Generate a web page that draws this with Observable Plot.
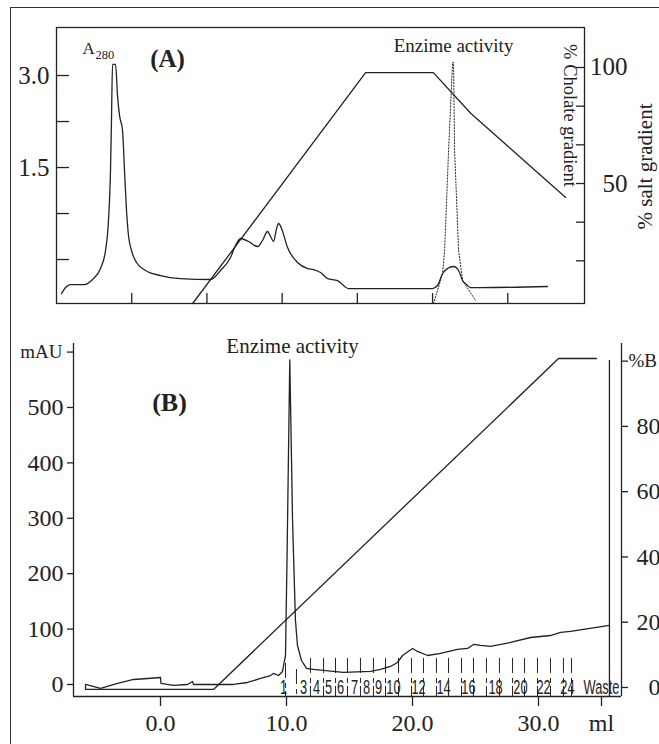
<!DOCTYPE html>
<html><head><meta charset="utf-8">
<script src="https://cdn.jsdelivr.net/npm/d3@7"></script>
<script src="https://cdn.jsdelivr.net/npm/@observablehq/plot@0.6"></script>
<style>
html,body{margin:0;padding:0;background:#fff;overflow:hidden;}
#page{position:relative;width:659px;height:744px;overflow:hidden;background:#fff;}
#border{position:absolute;left:10px;top:7px;width:800px;height:900px;border:1.3px solid #333;box-sizing:border-box;}
#page svg{position:absolute;left:0;top:0;overflow:visible;}
</style></head><body><div id="page"><div id="border"></div></div>
<script>
// ---------- Panel (A) data ----------
const aVolume = [0.066,0.120,0.186,0.372,0.479,0.585,0.652,0.691,0.718,0.731,0.745,0.785,0.811,0.838,0.878,0.904,0.931,0.957,0.997,1.064,1.184,1.383,1.649,2.048,2.181,2.314,2.380,2.447,2.553,2.673,2.739,2.806,2.846,2.886,2.926,2.952,2.992,3.072,3.205,3.338,3.418,3.511,3.604,3.737,3.883,4.043,5.000,5.066,5.133,5.199,5.279,5.346,5.399,5.452,5.505,5.638,6.529];
const aA280 = [-0.555,-0.457,-0.408,-0.408,-0.326,-0.147,0.147,0.636,1.452,2.268,3.181,3.181,2.675,2.349,2.104,1.452,0.799,0.392,0.147,-0.049,-0.179,-0.261,-0.310,-0.326,-0.179,0.033,0.228,0.343,0.294,0.212,0.310,0.457,0.375,0.294,0.506,0.587,0.506,0.196,-0.049,-0.147,-0.163,-0.212,-0.310,-0.343,-0.473,-0.473,-0.473,-0.424,-0.228,-0.147,-0.114,-0.179,-0.343,-0.408,-0.457,-0.457,-0.440];
const aEnzVolume = [5.013,5.133,5.160,5.213,5.266,5.279,5.293,5.346,5.399,5.572];
const aEnzActivity = [-0.718,-0.228,0.147,1.778,3.214,3.214,1.778,0.147,-0.343,-0.669];
const aGradVolume = [1.81,4.11,5.01,5.51,6.77];
const aGradPercent = [-1.72,97.8,97.8,80.2,44.0];
const aXTicks = [1,2,3,4,5,6];
const aLeftTicks = [0,0.75,1.5,2.25,3.0];
const aLeftLabels = ["","","1.5","","3.0"];
const aRightTicks = [50/3,100/3,50,200/3,250/3,100];
const aRightLabels = ["","","50","","","100"];

// ---------- Panel (B) data ----------
const bVolume = [-5.95,-4.76,-3.41,-2.14,-1.03,0.0,0.04,1.03,2.14,2.54,2.62,5.79,6.90,7.94,8.73,8.97,9.37,9.68,9.92,10.04,10.26,10.48,10.71,10.87,11.19,11.59,12.14,14.5,16.67,17.46,18.25,18.81,19.21,20.0,20.40,21.19,22.22,23.57,24.37,24.84,25.40,26.19,27.78,29.37,30.95,31.75,32.54,33.57,35.63];
const bMAU = [0,-7.2,1.8,9.0,10.8,12.6,1.8,-1.8,0,5.4,0,0,3.6,10.8,16.2,19.9,16.2,23.5,52.3,223.8,586,296,115.5,70.4,43.3,28.9,27.1,21.7,23.5,27.1,32.5,39.7,52.3,65.0,59.6,52.3,56.0,63.2,65.0,72.2,70.4,68.6,75.8,84.8,88.4,93.9,95.7,99.3,106.5];
const bGradVolume = [-5.95,-5.95,4.21,31.59,34.60];
const bGradPercent = [0.9,-0.6,-0.6,100.8,100.8];
const bRunEnd = [35.63];
const bRunEndTop = 100.2;
const bXTicks = [0,10,20,30,35];
const bXLabels = ["0.0","10.0","20.0","30.0","ml"];
const bLeftTicks = [0,100,200,300,400,500,600];
const bLeftLabels = ["0","100","200","300","400","500",""];
const bRightTicks = [0,20,40,60,80,100];
const bRightLabels = ["0","20","40","60","80",""];
const fractionBounds = [9.92,10.79,11.90,12.94,13.89,14.84,15.87,16.90,17.86,18.89,19.92,20.87,21.90,22.86,23.89,24.84,25.87,26.90,27.94,28.89,29.92,30.95,31.98,32.62];
const fractionTops = [38,27,47,47,47,47,47,47,47,47,47,47,47,47,47,47,47,47,47,47,47,47,47,47];
const fractionLabels = ["1","3","4","5","6","7","8","9","10","12","14","16","18","20","22","24","Waste"];
const fractionLabelVolume = [9.76,11.35,12.38,13.33,14.29,15.40,16.35,17.30,18.49,20.48,22.46,24.44,26.59,28.57,30.40,32.30,35.0];

// ---------- drawing ----------
const W = 659, H = 744;
const ink = "#222";
const serif = "'Liberation Serif','Times New Roman',Times,serif";
const sans = "'Liberation Sans',Arial,sans-serif";
const lw = 1.3;
const fmtFrom = (ticks, labels) => { const m = new Map(ticks.map((t, i) => [t, labels[i]])); return d => m.get(d) ?? ""; };
const baseStyle = {background: "transparent", fontFamily: serif, color: ink, overflow: "visible"};

const aTrace = aVolume.map((v, i) => ({v, a: aA280[i]}));
const aEnz = aEnzVolume.map((v, i) => ({v, a: aEnzActivity[i]}));
const aGrad = aGradVolume.map((v, i) => ({v, p: aGradPercent[i]}));

const topMargins = {marginLeft: 56, marginRight: 75, marginTop: 27, marginBottom: 441};
const topX = {domain: [0, 7.02]};

const topLeft = Plot.plot({
  width: W, height: H, ...topMargins,
  style: {...baseStyle, fontSize: "25px"},
  x: topX,
  y: {domain: [-0.717, 3.783]},
  marks: [
    Plot.frame({stroke: ink, strokeWidth: lw}),
    Plot.axisX(aXTicks, {tickSize: -10, tickFormat: () => "", label: null, stroke: ink, strokeWidth: lw}),
    Plot.axisY(aLeftTicks, {anchor: "left", tickSize: -13, tickFormat: () => "", label: null, stroke: ink, strokeWidth: lw}),
    Plot.axisY(aLeftTicks, {anchor: "left", tickSize: 0, tickPadding: 7, tickFormat: fmtFrom(aLeftTicks, aLeftLabels), label: null, fontSize: 25}),
    Plot.line(aTrace, {x: "v", y: "a", stroke: ink, strokeWidth: lw, curve: "monotone-x"}),
    Plot.line(aEnz, {x: "v", y: "a", stroke: ink, strokeWidth: 1, strokeDasharray: "1.2,1.8"}),
    Plot.text(["A"], {frameAnchor: "top-left", dx: 26, dy: 26, lineAnchor: "bottom", textAnchor: "start", fontSize: 17, fill: ink}),
    Plot.text(["280"], {frameAnchor: "top-left", dx: 39, dy: 31, lineAnchor: "bottom", textAnchor: "start", fontSize: 12.5, fill: ink}),
    Plot.text(["(A)"], {frameAnchor: "top-left", dx: 111, dy: 39, lineAnchor: "bottom", textAnchor: "middle", fontSize: 25, fontWeight: "bold", fill: ink}),
    Plot.text(["Enzime activity"], {frameAnchor: "top-left", dx: 397, dy: 24, lineAnchor: "bottom", textAnchor: "middle", fontSize: 19, fill: ink}),
    Plot.text(["% Cholate gradient"], {frameAnchor: "top-left", dx: 513, dy: 88, rotate: 90, lineAnchor: "middle", textAnchor: "middle", fontSize: 18.5, fill: ink})
  ]
});

const topRight = Plot.plot({
  width: W, height: H, ...topMargins,
  style: {...baseStyle, fontSize: "25px"},
  x: {...topX, axis: null},
  y: {domain: [-1.72, 117.24]},
  marks: [
    Plot.axisY(aRightTicks, {anchor: "right", tickSize: -9, tickFormat: () => "", label: null, stroke: ink, strokeWidth: lw}),
    Plot.axisY(aRightTicks, {anchor: "right", tickSize: 0, tickPadding: 43, textAnchor: "end", tickFormat: fmtFrom(aRightTicks, aRightLabels), label: null, fontSize: 25}),
    Plot.line(aGrad, {x: "v", y: "p", stroke: ink, strokeWidth: lw}),
    Plot.text(["% salt gradient"], {frameAnchor: "top-right", dx: 61, dy: 139, rotate: -90, lineAnchor: "middle", textAnchor: "middle", fontSize: 21, fill: ink})
  ]
});

const bTrace = bVolume.map((v, i) => ({v, m: bMAU[i]}));
const bGrad = bGradVolume.map((v, i) => ({v, p: bGradPercent[i]}));
const bFrac = fractionBounds.map((v, i) => ({v, top: fractionTops[i]}));
const bFracLab = fractionLabels.map((t, i) => ({t, v: fractionLabelVolume[i]}));

const botMargins = {marginLeft: 73, marginRight: 38, marginTop: 343, marginBottom: 48};
const botXDomain = [-6.905, 36.587];
const botLeftDomain = [-21.7, 615.5];
const botRightDomain = [-2.76, 105.4];

const botLeft = Plot.plot({
  width: W, height: H, ...botMargins,
  style: {...baseStyle, fontSize: "24px"},
  x: {domain: botXDomain},
  y: {domain: botLeftDomain},
  marks: [
    Plot.ruleX([botXDomain[0]], {stroke: ink, strokeWidth: lw}),
    Plot.ruleY([botLeftDomain[0]], {stroke: ink, strokeWidth: lw}),
    Plot.axisY(bLeftTicks, {anchor: "left", tickSize: 6, tickPadding: 4, tickFormat: fmtFrom(bLeftTicks, bLeftLabels), label: null, fontSize: 24, stroke: ink, strokeWidth: lw}),
    Plot.text([600], {y: d => d, text: () => "mAU", frameAnchor: "left", dx: -11, textAnchor: "end", fontSize: 19, fill: ink}),
    Plot.axisX(bXTicks, {tickSize: 10, tickPadding: 7, tickFormat: fmtFrom(bXTicks, bXLabels), label: null, fontSize: 24, stroke: ink, strokeWidth: lw}),
    Plot.ruleX(bFrac, {x: "v", y1: "top", y2: botLeftDomain[0], stroke: ink, strokeWidth: 1, strokeDasharray: "15,5,5,3,12"}),
    Plot.text(bFracLab, {x: "v", text: "t", frameAnchor: "bottom", dy: -3, lineAnchor: "bottom", fontFamily: sans, fontSize: 20, fill: ink}),
    Plot.line(bTrace, {x: "v", y: "m", stroke: ink, strokeWidth: lw}),
    Plot.text(["Enzime activity"], {frameAnchor: "top-left", dx: 219, dy: 9, lineAnchor: "bottom", textAnchor: "middle", fontSize: 21, fill: ink}),
    Plot.text(["(B)"], {frameAnchor: "top-left", dx: 96, dy: 67, lineAnchor: "bottom", textAnchor: "middle", fontSize: 26, fontWeight: "bold", fill: ink})
  ]
});

// condense the fraction labels horizontally, like the narrow lettering of the original
const fracSet = new Set(fractionLabels);
d3.select(botLeft).selectAll("text")
  .filter(function () { return fracSet.has(this.textContent) && (this.closest("g[font-family]")?.getAttribute("font-family") || "").includes("Sans"); })
  .each(function () {
    const t = this.getAttribute("transform");
    if (t) {
      this.setAttribute("transform", t + " scale(0.64,1)");
    } else {
      const x = +this.getAttribute("x") || 0, y = +this.getAttribute("y") || 0;
      this.removeAttribute("x"); this.removeAttribute("y");
      this.setAttribute("transform", `translate(${x},${y}) scale(0.64,1)`);
    }
  });

const botRight = Plot.plot({
  width: W, height: H, ...botMargins,
  style: {...baseStyle, fontSize: "24px"},
  x: {domain: botXDomain, axis: null},
  y: {domain: botRightDomain},
  marks: [
    Plot.ruleX([botXDomain[1]], {stroke: ink, strokeWidth: lw}),
    Plot.axisY(bRightTicks, {anchor: "right", tickSize: 6, tickPadding: 33, textAnchor: "end", tickFormat: fmtFrom(bRightTicks, bRightLabels), label: null, fontSize: 24, stroke: ink, strokeWidth: lw}),
    Plot.text([100], {y: d => d, text: () => "%B", frameAnchor: "right", dx: 7, textAnchor: "start", fontSize: 19, fill: ink}),
    Plot.ruleX(bRunEnd, {x: d => d, y1: bRunEndTop, y2: botRightDomain[0], stroke: ink, strokeWidth: lw}),
    Plot.line(bGrad, {x: "v", y: "p", stroke: ink, strokeWidth: lw})
  ]
});

const page = document.getElementById("page");
[topLeft, topRight, botLeft, botRight].forEach(p => page.appendChild(p));
</script></body></html>
